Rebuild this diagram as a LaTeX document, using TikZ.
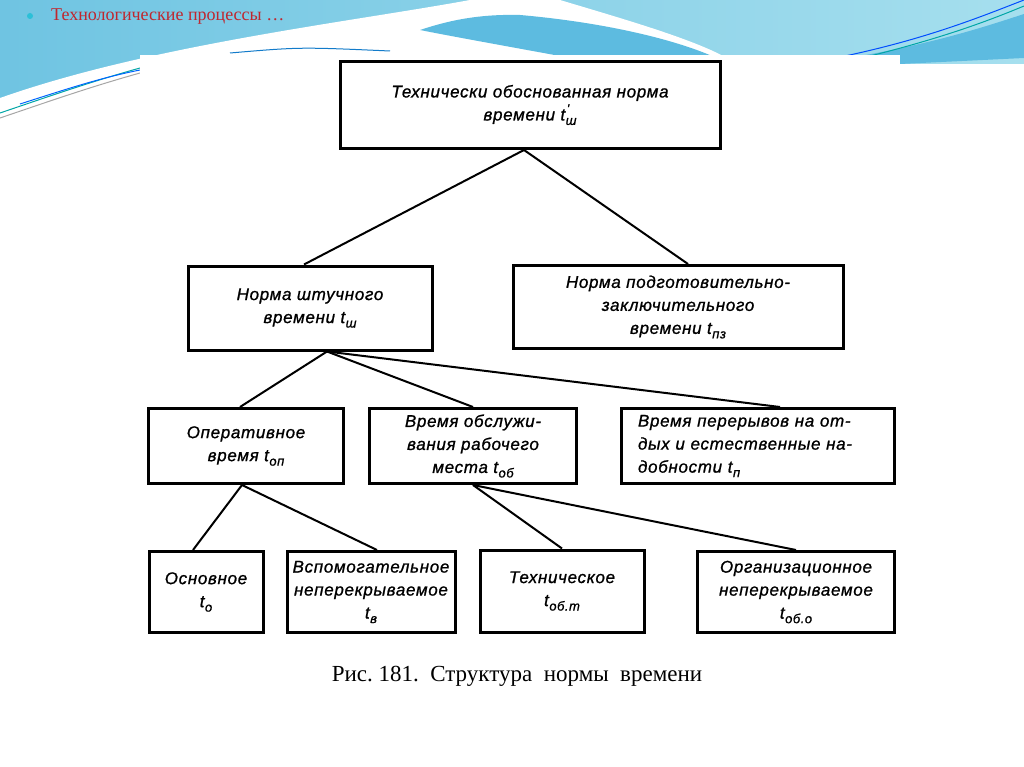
\documentclass[tikz,border=0pt]{standalone}
\usepackage{fontspec}
\setmainfont{Liberation Serif}
\newfontfamily\gost[LetterSpace=4,FakeBold=1]{Liberation Sans}
\definecolor{bandL}{HTML}{6FC4E2}
\definecolor{bandR}{HTML}{A6DFEE}
\definecolor{bandD}{HTML}{5DBBE0}
\definecolor{titlered}{HTML}{C0262E}
\definecolor{bulletc}{HTML}{2BC0D8}
\newcommand\sbx[1]{\raisebox{-0.5ex}{\fontsize{13}{13}\selectfont #1}}
\newcommand\tsb[1]{t\kern0.5pt\sbx{#1}}
\newcommand\tpr{t\rlap{\raisebox{0.8ex}{\fontsize{13}{13}\selectfont\kern1.5pt'}}\kern0.5pt\sbx{ш}}
\begin{document}
\begin{tikzpicture}[x=1pt,y=-1pt,
  box/.style={draw, line width=3pt, inner sep=0pt, align=center,
    font=\gost\itshape\fontsize{17}{23}\selectfont},
  link/.style={line width=2pt},
  deco/.style={line width=1pt}]
\useasboundingbox (0,0) rectangle (1024,767);
% slide background
\fill[white] (0,0) rectangle (1024,767);
\shade[left color=bandL, right color=bandR] (0,0) -- (1024,0) -- (1024,64) -- (140,64) -- (140,120) -- (0,120) -- cycle;
\fill[white] (0,98) .. controls (150,45) and (350,22) .. (470,0) -- (560,0)
  .. controls (620,18) and (690,38) .. (725,57) -- (725,130) -- (0,130) -- cycle;
\fill[bandD] (420,30) .. controls (450,20) and (480,14) .. (520,15)
  .. controls (600,22) and (670,38) .. (712,56) -- (560,56)
  .. controls (500,45) and (450,36) .. (420,30) -- cycle;
\fill[bandD] (860,56) .. controls (940,42) and (990,25) .. (1024,14) -- (1024,58) -- (900,64) -- (900,56) -- cycle;
\draw[deco, color=teal!70!cyan] (0,113) .. controls (50,96) and (90,82) .. (140,68);
\draw[deco, color=gray!70] (0,118) .. controls (50,101) and (90,87) .. (140,73);
\draw[deco, color=blue!60!cyan] (20,104) .. controls (70,88) and (100,78) .. (140,70);
\draw[deco, color=cyan!60!blue] (230,53) .. controls (300,47) .. (390,51);
\draw[deco, color=blue!70!cyan] (845,56) .. controls (930,38) and (985,15) .. (1024,0);
\draw[deco, color=teal!70!cyan] (870,56) .. controls (950,36) and (995,18) .. (1024,6);
% scanned picture area
\fill[white] (140,55) rectangle (900,700);
% title
\fill[bulletc] (30,16) circle (3);
\node[anchor=west, text=titlered, font=\fontsize{18}{20}\selectfont, inner sep=0pt] (title) at (51,17) {Технологические процессы …};
% boxes
\node[box, minimum width=380pt, minimum height=87pt] (top) at (530,105) {Технически обоснованная норма\\времени \tpr};
\node[box, minimum width=244pt, minimum height=84pt] (nsht) at (310,308) {Норма штучного\\времени \tsb{ш}};
\node[box, minimum width=330pt, minimum height=83pt] (npz) at (678,307) {Норма подготовительно-\\заключительного\\времени \tsb{пз}};
\node[box, minimum width=195pt, minimum height=75pt] (oper) at (246,446) {Оперативное\\время \tsb{оп}};
\node[box, minimum width=207pt, minimum height=75pt] (obsl) at (473,446) {Время обслужи-\\вания рабочего\\места \tsb{об}};
\node[box, minimum width=273pt, minimum height=75pt, text width=240pt, align=left] (per) at (758,446) {Время перерывов на от-\\дых и естественные на-\\добности \tsb{п}};
\node[box, minimum width=114pt, minimum height=81pt] (osn) at (206,592) {Основное\\\tsb{о}};
\node[box, minimum width=168pt, minimum height=81pt] (vsp) at (371,592) {Вспомогательное\\неперекрываемое\\\tsb{в}};
\node[box, minimum width=164pt, minimum height=82pt] (tekh) at (562,591) {Техническое\\\tsb{об.т}};
\node[box, minimum width=197pt, minimum height=81pt] (org) at (796,592) {Организационное\\неперекрываемое\\\tsb{об.о}};
% connectors
\draw[link] ([xshift=-6pt]top.south) -- ([xshift=-6pt]nsht.north);
\draw[link] ([xshift=-6pt]top.south) -- ([xshift=10pt]npz.north);
\draw[link] ([xshift=17pt]nsht.south) -- ([xshift=-6pt]oper.north);
\draw[link] ([xshift=17pt]nsht.south) -- (obsl.north);
\draw[link] ([xshift=17pt]nsht.south) -- ([xshift=22pt]per.north);
\draw[link] ([xshift=-4pt]oper.south) -- ([xshift=-13pt]osn.north);
\draw[link] ([xshift=-4pt]oper.south) -- ([xshift=6pt]vsp.north);
\draw[link] (obsl.south) -- (tekh.north);
\draw[link] (obsl.south) -- (org.north);
% caption
\node[font=\fontsize{23}{25}\selectfont, inner sep=0pt] (cap) at (517,676) {Рис.\ 181.\ \ Структура\ \ нормы\ \ времени};
\end{tikzpicture}
\end{document}
